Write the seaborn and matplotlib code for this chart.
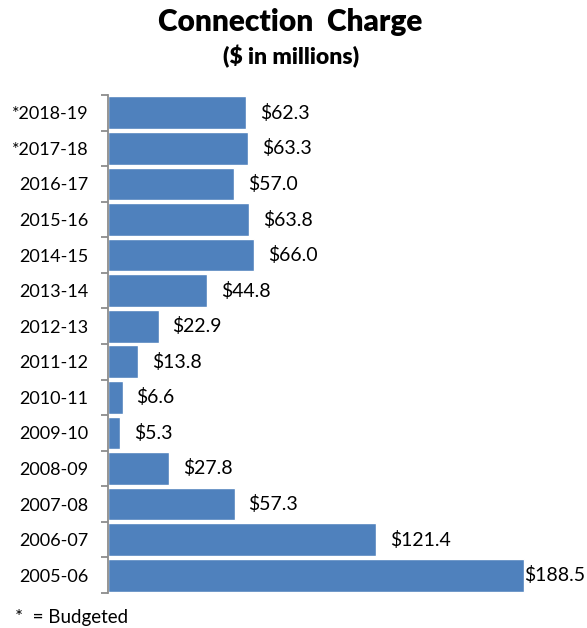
import matplotlib
matplotlib.use("Agg")
import matplotlib.pyplot as plt
import numpy as np
import pandas as pd
import seaborn as sns

years = ["*2018-19", "*2017-18", "2016-17", "2015-16", "2014-15", "2013-14", "2012-13",
         "2011-12", "2010-11", "2009-10", "2008-09", "2007-08", "2006-07", "2005-06"]
charges = [62.3, 63.3, 57.0, 63.8, 66.0, 44.8, 22.9, 13.8, 6.6, 5.3, 27.8, 57.3, 121.4, 188.5]

df = pd.DataFrame({"year": years, "charge": charges})

sns.set_theme(style="white")
plt.rcParams["font.family"] = ["Lato", "DejaVu Sans"]
plt.rcParams["text.color"] = "black"

fig = plt.figure(figsize=(5.87, 6.28), dpi=100)
ax = fig.add_axes([108 / 587, 1 - 593 / 628, 472 / 587, 498 / 628])

sns.barplot(data=df, y="year", x="charge", orient="h", color="#4F81BD",
            saturation=1, width=0.92, edgecolor="white", linewidth=1, ax=ax)

ax.set_xlim(0, 470 / 2.2)
ax.set_ylim(len(years) - 0.5, -0.5)
ax.set_xlabel("")
ax.set_ylabel("")
ax.set_xticks([])

for s in ["top", "right", "bottom"]:
    ax.spines[s].set_visible(False)
ax.spines["left"].set_color("#8C8C8C")
ax.spines["left"].set_linewidth(1.3)

# category labels centred on bars, tick marks on the boundaries between them
ax.set_yticks(np.arange(len(years)))
ax.set_yticklabels(years, fontsize=13, color="black")
ax.tick_params(axis="y", which="major", length=0, pad=14, labelcolor="black")
ax.set_yticks(np.arange(len(years) + 1) - 0.5, minor=True)
ax.tick_params(axis="y", which="minor", length=5, width=1.3, color="#8C8C8C", left=True)

# value labels
vmax = max(charges)
for i, v in enumerate(charges):
    offset = 0 if v == vmax else 14
    ax.annotate(f"${v:.1f}", xy=(v, i), xytext=(offset, 0), textcoords="offset pixels",
                ha="left", va="center", fontsize=14, color="black")

fig.text(0.495, 1 - 22 / 628, "Connection  Charge", ha="center", va="center",
         fontsize=21.5, fontweight="heavy", color="black")
fig.text(0.495, 1 - 57 / 628, "($ in millions)", ha="center", va="center",
         fontsize=16.5, fontweight="heavy", color="black")
fig.text(15 / 587, 1 - 617 / 628, "*  = Budgeted", ha="left", va="center",
         fontsize=13.5, color="black")

fig.savefig("out.png", dpi=100)
